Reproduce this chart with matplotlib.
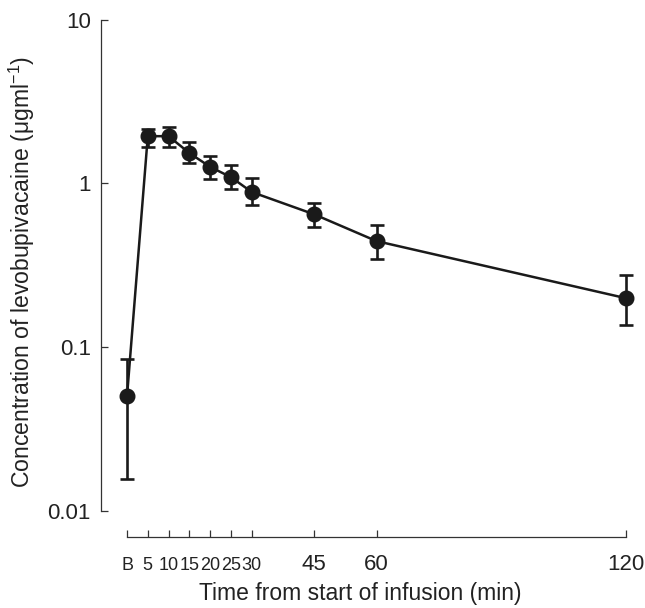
import matplotlib
matplotlib.use("Agg")
import matplotlib.pyplot as plt
from matplotlib import font_manager
import numpy as np

plt.rcParams['font.family'] = ['Liberation Sans', 'DejaVu Sans']
plt.rcParams['mathtext.fontset'] = 'custom'
plt.rcParams['mathtext.rm'] = 'Liberation Sans'
plt.rcParams['mathtext.it'] = 'Liberation Sans:italic'

# Data
times = [0, 5, 10, 15, 20, 25, 30, 45, 60, 120]
tick_labels = ["B", "5", "10", "15", "20", "25", "30", "45", "60", "120"]
conc = [0.050, 1.94, 1.94, 1.53, 1.26, 1.09, 0.885, 0.647, 0.444, 0.199]
upper = [0.085, 2.14, 2.20, 1.79, 1.47, 1.29, 1.08, 0.762, 0.556, 0.275]
lower = [0.0157, 1.67, 1.67, 1.33, 1.06, 0.92, 0.74, 0.541, 0.344, 0.136]

c = np.array(conc)
yerr = np.vstack([c - np.array(lower), np.array(upper) - c])

fig = plt.figure(figsize=(6.45, 6.08), dpi=100)
ax = fig.add_axes([127/645, 1 - 511/608, (626-127)/645, (511-19.5)/608])

col = '#1a1a1a'
ax.errorbar(times, conc, yerr=yerr, fmt='o-', color=col, ms=10.5, lw=1.8,
            elinewidth=1.9, capsize=5, capthick=1.9, clip_on=False, zorder=3)

ax.set_yscale('log')
ax.set_ylim(0.01, 10)
ax.set_xlim(0, 120)
ax.set_yticks([0.01, 0.1, 1, 10])
ax.set_yticklabels(["0.01", "0.1", "1", "10"])
ax.yaxis.set_minor_locator(matplotlib.ticker.NullLocator())
ax.set_xticks(times)
ax.set_xticklabels(tick_labels)

for s in ['top', 'right']:
    ax.spines[s].set_visible(False)
ax.spines['left'].set_position(('outward', 19))
ax.spines['bottom'].set_position(('outward', 19))
for s in ['left', 'bottom']:
    ax.spines[s].set_linewidth(0.9)
    ax.spines[s].set_color('#333333')

ax.tick_params(axis='both', direction='in', length=5, width=0.9, color='#333333',
               labelsize=16, labelcolor='#222222')
ax.tick_params(axis='y', pad=7)
ax.tick_params(axis='x', pad=23.5)

# crowded early labels are drawn condensed/smaller, as in the reference
names = {f.name for f in font_manager.fontManager.ttflist}
narrow = 'Liberation Sans Narrow' in names
for lab in ax.get_xticklabels():
    lab.set_verticalalignment('baseline')
    if lab.get_text() in ["B", "5", "10", "15", "20", "25", "30"]:
        if narrow:
            lab.set_family(['Liberation Sans Narrow', 'Liberation Sans'])
            lab.set_fontsize(15.5)
        else:
            lab.set_fontsize(13)

ax.set_xlabel("Time from start of infusion (min)", fontsize=16.5, color='#222222')
ax.xaxis.set_label_coords(0.468, -0.144)
ax.set_ylabel("Concentration of levobupivacaine (\u03bcgml$^{-1}$)", fontsize=16.6,
              color='#222222', va='center')
ax.yaxis.set_label_coords(-0.21, 0.487)

fig.savefig("out.png", dpi=100)
